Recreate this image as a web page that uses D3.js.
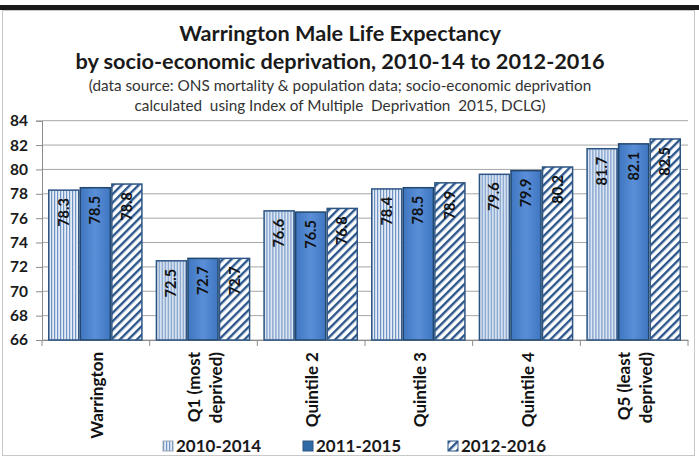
<!DOCTYPE html>
<html>
<head>
<meta charset="utf-8">
<script src="https://cdn.jsdelivr.net/npm/d3@7/dist/d3.min.js"></script>
<style>
  html, body { margin: 0; padding: 0; background: #fff; }
  svg { display: block; font-family: Lato, "Open Sans", "Liberation Sans", sans-serif; }
</style>
</head>
<body>
<svg id="chart" width="699" height="462"></svg>
<script>
// Areas (categories), each shown on one or two lines
const categories = ["Warrington", "Q1 (most deprived)", "Quintile 2", "Quintile 3", "Quintile 4", "Q5 (least deprived)"];
const categoryLines = [["Warrington"], ["Q1 (most", "deprived)"], ["Quintile 2"], ["Quintile 3"], ["Quintile 4"], ["Q5 (least", "deprived)"]];
const periods = ["2010-2014", "2011-2015", "2012-2016"];
// Male life expectancy (years) per period
const le2010_2014 = [78.3, 72.5, 76.6, 78.4, 79.6, 81.7];
const le2011_2015 = [78.5, 72.7, 76.5, 78.5, 79.9, 82.1];
const le2012_2016 = [78.8, 72.7, 76.8, 78.9, 80.2, 82.5];
const yTicks = [66, 68, 70, 72, 74, 76, 78, 80, 82, 84];

const seriesValues = [le2010_2014, le2011_2015, le2012_2016];

const svg = d3.select("#chart");
const defs = svg.append("defs");

// vertical stripes for 2010-2014
const pv = defs.append("pattern").attr("id", "vstripe").attr("patternUnits", "userSpaceOnUse")
  .attr("width", 3).attr("height", 6);
pv.append("rect").attr("width", 3).attr("height", 6).attr("fill", "#e4ecf6");
pv.append("rect").attr("x", 0).attr("width", 1.2).attr("height", 6).attr("fill", "#6f93c4");

// solid gradient for 2011-2015
const g2 = defs.append("linearGradient").attr("id", "solid2").attr("x1", 0).attr("x2", 1).attr("y1", 0).attr("y2", 0);
g2.append("stop").attr("offset", "0%").attr("stop-color", "#3f76c0");
g2.append("stop").attr("offset", "50%").attr("stop-color", "#5a8fd8");
g2.append("stop").attr("offset", "100%").attr("stop-color", "#3f76c0");

// diagonal hatch for 2012-2016
const pd = defs.append("pattern").attr("id", "dhatch").attr("patternUnits", "userSpaceOnUse")
  .attr("width", 6).attr("height", 6).attr("patternTransform", "rotate(45)");
pd.append("rect").attr("width", 6).attr("height", 6).attr("fill", "#ffffff");
pd.append("rect").attr("x", 0).attr("width", 2.4).attr("height", 6).attr("fill", "#2b568c");

const fills = ["url(#vstripe)", "url(#solid2)", "url(#dhatch)"];
const strokes = ["#2d5584", "#22486f", "#2d5584"];

// outer frame
svg.append("rect").attr("x", 2.5).attr("y", 10.5).attr("width", 692).attr("height", 445)
  .attr("fill", "#fff").attr("stroke", "#c8c8c8").attr("stroke-width", 1);
svg.append("rect").attr("x", 0).attr("y", 5).attr("width", 699).attr("height", 5).attr("fill", "#1a1a1a");

// titles
const titleLines = [
  { t: "Warrington Male Life Expectancy", y: 41, s: 21.7, w: "bold", c: "#1a1a1a" },
  { t: "by socio-economic deprivation, 2010-14 to 2012-2016", y: 69, s: 21.7, w: "bold", c: "#1a1a1a" },
  { t: "(data source: ONS mortality & population data; socio-economic deprivation", y: 91, s: 15.3, w: "normal", c: "#333" },
  { t: "calculated  using Index of Multiple  Deprivation  2015, DCLG)", y: 111, s: 15.3, w: "normal", c: "#333" }
];
svg.selectAll("text.title").data(titleLines).join("text").attr("class", "title")
  .attr("x", 340).attr("y", d => d.y).attr("text-anchor", "middle")
  .attr("font-size", d => d.s).attr("font-weight", d => d.w).attr("fill", d => d.c)
  .style("white-space", "pre").text(d => d.t);

const plotLeft = 42, plotRight = 688, plotTop = 120.7, plotBottom = 340;
const y = d3.scaleLinear().domain([66, 84]).range([plotBottom, plotTop]);
const x = d3.scaleBand().domain(categories).range([plotLeft, plotRight]).paddingInner(0).paddingOuter(0);
const xs = d3.scaleBand().domain(periods).range([6, x.bandwidth() - 7]).padding(0);

// gridlines
svg.append("g").selectAll("line").data(yTicks).join("line")
  .attr("x1", plotLeft).attr("x2", plotRight).attr("y1", d => y(d)).attr("y2", d => y(d))
  .attr("stroke", "#a6a6a6").attr("stroke-width", 1);

// y axis
const yAxis = svg.append("g").attr("transform", `translate(${plotLeft},0)`)
  .call(d3.axisLeft(y).tickValues(yTicks).tickSize(6).tickPadding(8).tickFormat(d3.format("d")));
yAxis.select(".domain").attr("stroke", "#8c8c8c");
yAxis.selectAll(".tick line").attr("stroke", "#8c8c8c");
yAxis.selectAll("text").attr("font-size", 15.5).attr("font-weight", "bold").attr("fill", "#1a1a1a")
  .attr("font-family", "Lato, sans-serif");

// x axis
const xAxis = svg.append("g").attr("transform", `translate(0,${plotBottom})`)
  .call(d3.axisBottom(x).tickValues([]).tickSizeOuter(0));
xAxis.select(".domain").attr("stroke", "#8c8c8c");
svg.append("g").selectAll("line").data(categories.concat(["__end"])).join("line")
  .attr("x1", (d, i) => plotLeft + i * x.step()).attr("x2", (d, i) => plotLeft + i * x.step())
  .attr("y1", plotBottom).attr("y2", plotBottom + 6).attr("stroke", "#8c8c8c");

// bars
const groups = svg.append("g").selectAll("g").data(categories).join("g")
  .attr("transform", d => `translate(${x(d)},0)`);
periods.forEach((p, si) => {
  groups.append("rect")
    .attr("x", xs(p) + 0.75).attr("width", xs.bandwidth() - 1.5)
    .attr("y", (d, i) => y(seriesValues[si][i]))
    .attr("height", (d, i) => plotBottom - y(seriesValues[si][i]))
    .attr("fill", fills[si]).attr("stroke", strokes[si]).attr("stroke-width", 1.5);
  groups.append("text")
    .attr("transform", (d, i) => `translate(${xs(p) + xs.bandwidth() / 2 + 5},${y(seriesValues[si][i]) + 8}) rotate(-90)`)
    .attr("text-anchor", "end").attr("font-size", 14.5).attr("font-weight", "bold").attr("fill", "#111")
    .text((d, i) => seriesValues[si][i].toFixed(1));
});

// category labels, rotated
categoryLines.forEach((lines, ci) => {
  const cx = x(categories[ci]) + x.bandwidth() / 2;
  lines.forEach((ln, li) => {
    const off = (li - (lines.length - 1) / 2) * 22;
    svg.append("text")
      .attr("transform", `translate(${cx + off + 7},${plotBottom + 12}) rotate(-90)`)
      .attr("text-anchor", "end").attr("font-size", 17).attr("font-weight", "bold").attr("fill", "#111")
      .text(ln);
  });
});

// legend
const legendX = [163, 303, 448];
const legendFills = ["url(#vstripe)", "#2e6aa6", "url(#dhatch)"];
const lg = svg.append("g").selectAll("g").data(periods).join("g")
  .attr("transform", (d, i) => `translate(${legendX[i]},441)`);
lg.append("rect").attr("width", 10).attr("height", 10)
  .attr("fill", (d, i) => legendFills[i]).attr("stroke", (d, i) => i === 0 ? "#9aa7b6" : "#2d5584").attr("stroke-width", 1);
lg.append("text").attr("x", 13).attr("y", 11).attr("font-size", 17).attr("font-weight", "bold").attr("fill", "#1a1a1a")
  .text(d => d);
</script>
</body>
</html>
